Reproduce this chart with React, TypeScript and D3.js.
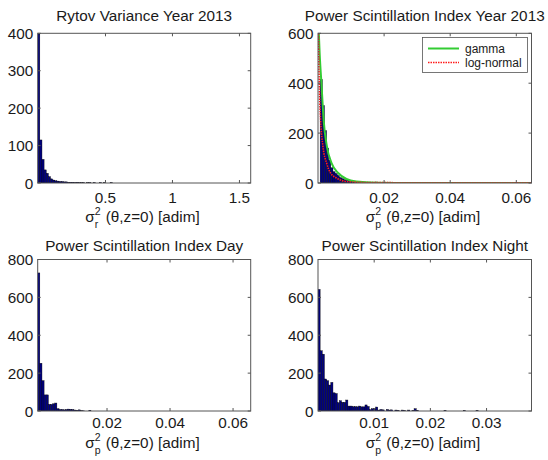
import React from 'react';
import * as d3 from 'd3';

// ---------- data ----------
const rytovCounts = [398, 115, 63, 35, 26, 17, 11, 8, 6, 5, 4, 4, 3, 3, 2, 2, 2, 1, 2, 1, 1, 1, 0, 1, 1, 0, 1, 0, 0, 1, 0, 1, 0, 0, 1];
const yearCounts = [0, 415, 310, 210, 140, 92, 61, 45, 38, 30, 22, 18, 14, 11, 12, 8, 6, 5, 4, 3, 3, 2, 2, 1, 1, 1, 2, 4, 0, 1];
const dayCounts = [729, 252, 160, 85, 85, 35, 35, 38, 42, 12, 8, 8, 6, 8, 10, 9, 8, 5, 4, 6, 2, 1, 0, 0, 4];
const nightCounts = [642, 318, 300, 169, 160, 137, 151, 96, 92, 44, 54, 46, 46, 58, 26, 26, 23, 23, 22, 26, 22, 22, 32, 24, 7, 12, 12, 21, 5, 8, 6, 0, 8, 5, 6, 0, 5, 4, 0, 5, 3, 0, 5, 0, 3, 12, 4, 0, 0, 0, 0, 0, 0, 0, 0, 0, 0, 0, 0, 3, 0, 0, 0, 0, 0, 0, 0, 0, 3, 0, 0, 0, 0, 0, 3];

const gammaX = [0.0001, 0.0005, 0.0011, 0.0017, 0.0027, 0.0041, 0.0061, 0.0086, 0.0116, 0.0177, 0.03, 0.0645];
const gammaY = [650, 520, 387, 253, 146, 80, 40, 16, 6, 1, 0.1, 0];
const lognX = [0.00008, 0.0003, 0.0008, 0.0015, 0.0026, 0.0038, 0.0056, 0.0086, 0.015, 0.03, 0.0645];
const lognY = [650, 450, 253, 146, 80, 40, 20, 6, 2, 1, 0.4];

const titles = ['Rytov Variance Year 2013', 'Power Scintillation Index Year 2013', 'Power Scintillation Index Day', 'Power Scintillation Index Night'];
const xTicks1 = [0.5, 1, 1.5];
const xTicks2 = [0.02, 0.04, 0.06];
const xTicks4 = [0.01, 0.02, 0.03];
const yTicks1 = [0, 100, 200, 300, 400];
const yTicks2 = [0, 200, 400, 600];
const yTicks3 = [0, 200, 400, 600, 800];
const legendLabels = ['gamma', 'log-normal'];
const subs = ['r', 'p', 'p', 'p'];

// ---------- layout ----------
const FONT = "'Liberation Sans', Arial, sans-serif";
const TXT = '#1a1a1a';
const BAR_FILL = '#000080';
const BOX = '#555';
const FS = 15.3;

type PanelCfg = {
  box: [number, number, number, number];
  xDom: [number, number];
  yDom: [number, number];
  counts: number[];
  xTicks: number[];
  yTicks: number[];
  title: string;
  sub: string;
  titleY: number;
  tickY: number;
  labelY: number;
  fits?: boolean;
};

const panels: PanelCfg[] = [
  { box: [37.7, 250.7, 33.3, 183], xDom: [-0.006, 1.584], yDom: [0, 400], counts: rytovCounts, xTicks: xTicks1, yTicks: yTicks1, title: titles[0], sub: subs[0], titleY: 21, tickY: 202.5, labelY: 222 },
  { box: [318, 531.5, 33.3, 183], xDom: [0, 0.0646], yDom: [0, 600], counts: yearCounts, xTicks: xTicks2, yTicks: yTicks2, title: titles[1], sub: subs[1], titleY: 21, tickY: 202.5, labelY: 222, fits: true },
  { box: [37.7, 250.7, 259.5, 411], xDom: [-0.002, 0.0656], yDom: [0, 800], counts: dayCounts, xTicks: xTicks2, yTicks: yTicks3, title: titles[2], sub: subs[2], titleY: 250.5, tickY: 427.5, labelY: 448 },
  { box: [318, 531.5, 259.5, 411], xDom: [0, 0.038], yDom: [0, 800], counts: nightCounts, xTicks: xTicks4, yTicks: yTicks3, title: titles[3], sub: subs[3], titleY: 250.5, tickY: 427.5, labelY: 448 },
];

function Panel({ cfg, idx }: { cfg: PanelCfg; idx: number }) {
  const [x0, x1, y0, y1] = cfg.box;
  const x = d3.scaleLinear().domain(cfg.xDom).range([x0, x1]);
  const y = d3.scaleLinear().domain(cfg.yDom).range([y1, y0]);
  const nb = 100;
  const bw = (cfg.xDom[1] - cfg.xDom[0]) / nb;
  const cx = (x0 + x1) / 2;
  const clipId = 'clip' + idx;
  const tl = 3;

  let fitPaths: React.ReactNode = null;
  if (cfg.fits) {
    const line = d3.line<[number, number]>().x(d => x(d[0])).y(d => y(d[1])).curve(d3.curveMonotoneX);
    const g = line(gammaX.map((v, i) => [v, gammaY[i]] as [number, number])) || '';
    const l = line(lognX.map((v, i) => [v, lognY[i]] as [number, number])) || '';
    fitPaths = (
      <g clipPath={`url(#${clipId})`}>
        <path d={g} fill="none" stroke="#33cc33" strokeWidth={2} />
        <path d={l} fill="none" stroke="#ff1a1a" strokeWidth={1.6} strokeDasharray="1.5,1" />
      </g>
    );
  }

  return (
    <g>
      <defs>
        <clipPath id={clipId}>
          <rect x={x0} y={y0} width={x1 - x0} height={y1 - y0} />
        </clipPath>
      </defs>
      <rect x={x0} y={y0} width={x1 - x0} height={y1 - y0} fill="#fff" />
      <g clipPath={`url(#${clipId})`}>
        {cfg.counts.map((c, i) =>
          c > 0 ? (
            <rect key={i} x={x(cfg.xDom[0] + i * bw)} width={x(cfg.xDom[0] + (i + 1) * bw) - x(cfg.xDom[0] + i * bw)}
              y={y(c)} height={y(0) - y(c)} fill={BAR_FILL} stroke="#000" strokeWidth={0.4} />
          ) : null
        )}
      </g>
      {fitPaths}
      <rect x={x0} y={y0} width={x1 - x0} height={y1 - y0} fill="none" stroke={BOX} strokeWidth={1} />
      {cfg.xTicks.map(t => (
        <g key={'xt' + t}>
          <line x1={x(t)} x2={x(t)} y1={y1} y2={y1 - tl} stroke={BOX} />
          <line x1={x(t)} x2={x(t)} y1={y0} y2={y0 + tl} stroke={BOX} />
          <text x={x(t)} y={cfg.tickY} textAnchor="middle" fontSize={FS} fontFamily={FONT} fill={TXT}>{String(t)}</text>
        </g>
      ))}
      {cfg.yTicks.map(t => (
        <g key={'yt' + t}>
          <line x1={x0} x2={x0 + tl} y1={y(t)} y2={y(t)} stroke={BOX} />
          <line x1={x1} x2={x1 - tl} y1={y(t)} y2={y(t)} stroke={BOX} />
          <text x={x0 - 4.5} y={y(t)} dy="0.36em" textAnchor="end" fontSize={FS} fontFamily={FONT} fill={TXT}>{String(t)}</text>
        </g>
      ))}
      <text x={cx} y={cfg.titleY} textAnchor="middle" fontSize={FS} fontFamily={FONT} fill={TXT}>{cfg.title}</text>
      <g fontFamily={FONT} fill={TXT} fontSize={FS}>
        <text x={cx - 59} y={cfg.labelY}>σ</text>
        <text x={cx - 49.5} y={cfg.labelY - 7} fontSize={10.5}>2</text>
        <text x={cx - 49.5} y={cfg.labelY + 6} fontSize={10.5}>{cfg.sub}</text>
        <text x={cx - 38.5} y={cfg.labelY}>(θ,z=0) [adim]</text>
      </g>
      {cfg.fits ? (
        <g>
          <rect x={422.5} y={37.5} width={105} height={35} fill="#fff" stroke={BOX} strokeWidth={0.8} />
          <line x1={428} x2={459} y1={48.5} y2={48.5} stroke="#33cc33" strokeWidth={2} />
          <line x1={428} x2={459} y1={62.5} y2={62.5} stroke="#ff1a1a" strokeWidth={1.6} strokeDasharray="1.5,1" />
          <text x={465} y={48.5} dy="0.35em" fontSize={12} fontFamily={FONT} fill={TXT}>{legendLabels[0]}</text>
          <text x={465} y={62.5} dy="0.35em" fontSize={12} fontFamily={FONT} fill={TXT}>{legendLabels[1]}</text>
        </g>
      ) : null}
    </g>
  );
}

export default function App() {
  return (
    <svg width={548} height={460} style={{ position: 'absolute', left: 0, top: 0, background: '#fff' }}>
      <rect x={0} y={0} width={548} height={460} fill="#fff" />
      {panels.map((p, i) => (
        <Panel key={i} cfg={p} idx={i} />
      ))}
    </svg>
  );
}
